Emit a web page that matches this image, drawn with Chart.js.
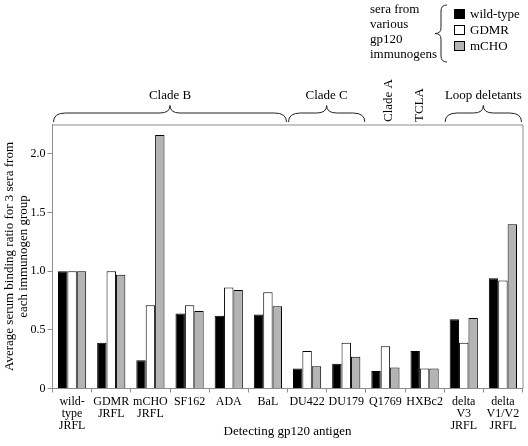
<!DOCTYPE html>
<html>
<head>
<meta charset="utf-8">
<script src="https://cdn.jsdelivr.net/npm/chart.js@4/dist/chart.umd.min.js"></script>
<style>
  body { margin: 0; background: #fff; }
  canvas { display: block; }
</style>
</head>
<body>
<canvas id="barChart" width="528" height="446"></canvas>
<script>
// du lieu doc tu hinh
const categories = [
  ['wild-', 'type', 'JRFL'], ['GDMR', 'JRFL'], ['mCHO', 'JRFL'], 'SF162', 'ADA', 'BaL',
  'DU422', 'DU179', 'Q1769', 'HXBc2', ['delta', 'V3', 'JRFL'], ['delta', 'V1/V2', 'JRFL']
];
const wildType = [1.0, 0.39, 0.24, 0.64, 0.62, 0.63, 0.17, 0.21, 0.15, 0.32, 0.59, 0.94];
const gdmr     = [1.0, 1.0, 0.71, 0.71, 0.86, 0.82, 0.32, 0.39, 0.36, 0.17, 0.39, 0.92];
const mcho     = [1.0, 0.97, 2.16, 0.66, 0.84, 0.70, 0.19, 0.27, 0.18, 0.17, 0.60, 1.40];
const yTicks = [0, 0.5, 1.0, 1.5, 2.0];

const braceGroups = [
  { label: 'Clade B', from: 0, to: 5 },
  { label: 'Clade C', from: 6, to: 7 },
  { label: 'Loop deletants', from: 10, to: 11 }
];
const rotatedGroups = [
  { label: 'Clade A', index: 8, dx: 3 },
  { label: 'TCLA', index: 9, dx: -5 }
];
const legendTitle = ['sera from', 'various', 'gp120', 'immunogens'];

const SERIF = '"Liberation Serif", "Times New Roman", serif';

function hBrace(ctx, x0, x1, yb, yf, yt) {
  const xm = (x0 + x1) / 2;
  const r = 12;
  ctx.beginPath();
  ctx.moveTo(x0, yb);
  ctx.quadraticCurveTo(x0, yf, x0 + r, yf);
  ctx.lineTo(xm - 10, yf);
  ctx.quadraticCurveTo(xm, yf, xm, yt);
  ctx.quadraticCurveTo(xm, yf, xm + 10, yf);
  ctx.lineTo(x1 - r, yf);
  ctx.quadraticCurveTo(x1, yf, x1, yb);
  ctx.stroke();
}

const decorPlugin = {
  id: 'decor',
  afterDraw(chart) {
    const ctx = chart.ctx;
    const area = chart.chartArea;
    const x = chart.scales.x;
    const half = (x.getPixelForValue(1) - x.getPixelForValue(0)) / 2;

    ctx.save();
    // khung bieu do
    ctx.strokeStyle = '#8c8c8c';
    ctx.lineWidth = 1;
    ctx.beginPath();
    ctx.moveTo(area.left, area.top + 0.5);
    ctx.lineTo(area.right + 0.5, area.top + 0.5);
    ctx.lineTo(area.right + 0.5, area.bottom);
    ctx.stroke();

    // ngoac nhom
    ctx.strokeStyle = '#222';
    ctx.fillStyle = '#000';
    ctx.font = '13px ' + SERIF;
    ctx.textAlign = 'center';
    ctx.textBaseline = 'middle';
    braceGroups.forEach(g => {
      const x0 = x.getPixelForValue(g.from) - half + 1;
      const x1 = x.getPixelForValue(g.to) + half - 1;
      hBrace(ctx, x0, x1, 122, 113, 105.5);
      ctx.fillText(g.label, (x0 + x1) / 2, 96);
    });
    rotatedGroups.forEach(g => {
      ctx.save();
      ctx.translate(x.getPixelForValue(g.index) + g.dx, 122);
      ctx.rotate(-Math.PI / 2);
      ctx.textAlign = 'left';
      ctx.fillText(g.label, 0, 0);
      ctx.restore();
    });

    // chu giai
    ctx.textAlign = 'left';
    ctx.textBaseline = 'alphabetic';
    legendTitle.forEach((t, i) => ctx.fillText(t, 370, 13 + i * 15));
    ctx.beginPath();
    ctx.moveTo(447, 5);
    ctx.quadraticCurveTo(441, 5, 441, 11);
    ctx.lineTo(441, 28);
    ctx.quadraticCurveTo(441, 33.5, 435, 33.5);
    ctx.quadraticCurveTo(441, 33.5, 441, 39);
    ctx.lineTo(441, 56);
    ctx.quadraticCurveTo(441, 62, 447, 62);
    ctx.stroke();

    ctx.textBaseline = 'middle';
    chart.data.datasets.forEach((ds, i) => {
      const y = 9.5 + i * 16;
      ctx.fillStyle = ds.backgroundColor;
      ctx.fillRect(454.5, y, 10, 9);
      ctx.strokeStyle = '#000';
      ctx.strokeRect(454.5, y, 10, 9);
      ctx.fillStyle = '#000';
      ctx.fillText(ds.label, 470, y + 5);
    });
    ctx.restore();
  }
};

document.addEventListener("DOMContentLoaded", () => {

  new Chart(document.querySelector('#barChart'), {
    type: 'bar',
    data: {
      labels: categories,
      datasets: [
        { label: 'wild-type', data: wildType, backgroundColor: '#000000', borderColor: '#000', borderWidth: 1 },
        { label: 'GDMR', data: gdmr, backgroundColor: '#ffffff', borderColor: '#000', borderWidth: 1 },
        { label: 'mCHO', data: mcho, backgroundColor: '#b4b4b4', borderColor: '#000', borderWidth: 1 }
      ]
    },
    options: {
      responsive: false,
      animation: false,
      layout: { padding: { top: 124.5, right: 5.5, left: 0, bottom: 0 } },
      categoryPercentage: 0.72,
      barPercentage: 1.0,
      plugins: {
        legend: { display: false },
        tooltip: { enabled: false }
      },
      scales: {
        x: {
          offset: true,
          grid: { offset: true, drawOnChartArea: false, tickLength: 4, color: '#8c8c8c' },
          border: { color: '#8c8c8c' },
          ticks: {
            color: '#000',
            padding: 3,
            maxRotation: 0,
            autoSkip: false,
            font: { family: SERIF, size: 12, lineHeight: 1.0 }
          },
          title: {
            display: true,
            text: 'Detecting gp120 antigen',
            color: '#000',
            font: { family: SERIF, size: 13, lineHeight: 1.2 },
            padding: { top: 0, bottom: 7 }
          },
          afterFit(scale) {
            scale.height = 57.5;
            scale.paddingLeft = 0; scale.paddingRight = 0;
          }
        },
        y: {
          min: 0,
          max: 2.25,
          grid: { drawOnChartArea: false, tickLength: 5, color: '#8c8c8c' },
          border: { color: '#8c8c8c' },
          afterBuildTicks(scale) {
            scale.ticks = yTicks.map(v => ({ value: v }));
          },
          ticks: {
            color: '#000',
            padding: 2,
            font: { family: SERIF, size: 12 },
            callback: v => v === 0 ? '0' : v.toFixed(1)
          },
          title: {
            display: true,
            text: ['Average serum binding ratio for 3 sera from', 'each immunogen group'],
            color: '#000',
            font: { family: SERIF, size: 13, lineHeight: 1.05 },
            padding: { top: 3, bottom: 0 }
          },
          afterFit(scale) {
            scale.width = 52.5;
            scale.paddingTop = 0; scale.paddingBottom = 0;
          }
        }
      }
    },
    plugins: [decorPlugin]
  });

});
</script>
</body>
</html>
